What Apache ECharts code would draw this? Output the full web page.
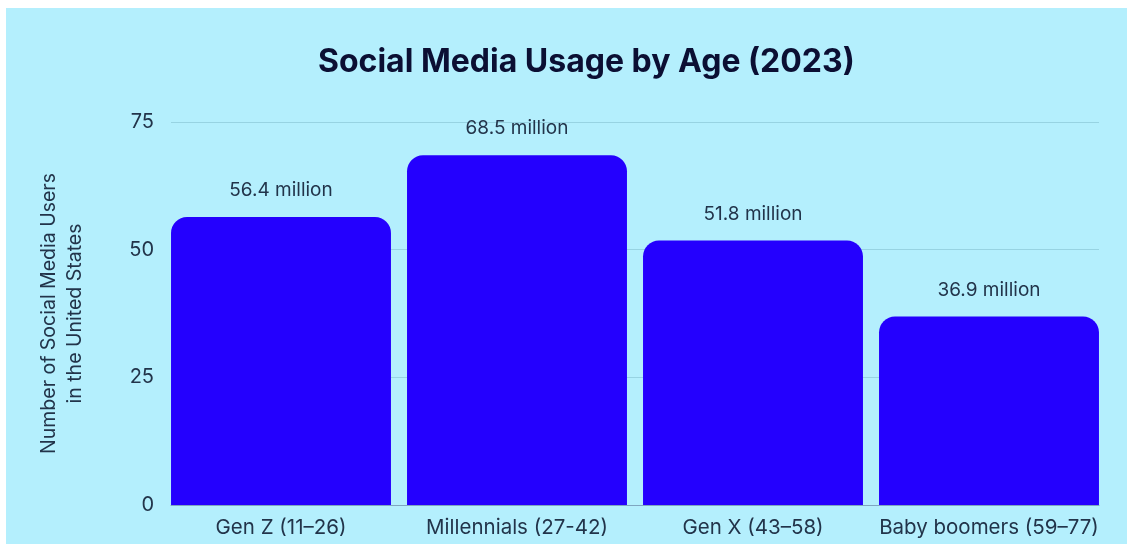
<!DOCTYPE html>
<html>
<head>
<meta charset="utf-8">
<script src="https://cdn.jsdelivr.net/npm/echarts@6/dist/echarts.min.js"></script>
<style>
  html, body { margin: 0; padding: 0; background: #ffffff; }
  #chart { position: absolute; left: 6px; top: 8px; width: 1121px; height: 536px; }
</style>
</head>
<body>
<div id="chart"></div>
<script>
const categories = ['Gen Z (11–26)', 'Millennials (27-42)', 'Gen X (43–58)', 'Baby boomers (59–77)']
const users = [56.4, 68.5, 51.8, 36.9]
const yTicks = [0, 25, 50, 75]

const chart = echarts.init(document.getElementById('chart'))

const textColor = '#22344a'
const font = 'Inter'

// grid 0 carries the y axis, gridlines and baseline; grid 1 carries the bars,
// which in the original run a little past the gridlines on both sides
chart.setOption({
  backgroundColor: '#b4effd',
  animation: false,
  title: {
    text: 'Social Media Usage by Age (2023)',
    left: 307,
    top: 33,
    textStyle: {
      fontFamily: font,
      fontSize: 32,
      fontWeight: 'bold',
      color: '#0b0f33'
    }
  },
  grid: [
    { left: 165, right: 28, top: 114, bottom: 39 },
    { left: 157, right: 20, top: 114, bottom: 39 }
  ],
  xAxis: [
    {
      type: 'category',
      gridIndex: 0,
      data: categories,
      axisTick: { show: false },
      axisLabel: { show: false },
      axisLine: { lineStyle: { color: '#7fa6c0', width: 1 } }
    },
    {
      type: 'category',
      gridIndex: 1,
      data: categories,
      axisTick: { show: false },
      axisLine: { show: false },
      axisLabel: {
        interval: 0,
        color: textColor,
        fontFamily: font,
        fontSize: 20.5,
        margin: 12
      }
    }
  ],
  yAxis: [
    {
      type: 'value',
      gridIndex: 0,
      min: yTicks[0],
      max: yTicks[yTicks.length - 1],
      interval: 25,
      name: 'Number of Social Media Users\nin the United States',
      nameLocation: 'middle',
      nameGap: 83,
      nameTextStyle: {
        color: textColor,
        fontFamily: font,
        fontSize: 19.5,
        lineHeight: 26
      },
      axisLabel: {
        color: textColor,
        fontFamily: font,
        fontSize: 20,
        margin: 17
      },
      splitLine: { lineStyle: { color: '#97d3e2', width: 1 } }
    },
    {
      type: 'value',
      gridIndex: 1,
      min: yTicks[0],
      max: yTicks[yTicks.length - 1],
      interval: 25,
      show: false,
      splitLine: { show: false }
    }
  ],
  series: [{
    type: 'bar',
    xAxisIndex: 1,
    yAxisIndex: 1,
    data: users,
    barCategoryGap: '6.8%',
    itemStyle: {
      color: '#2400fe',
      borderRadius: [16, 16, 0, 0]
    },
    label: {
      show: true,
      position: 'top',
      distance: 17,
      formatter: p => p.value + ' million',
      color: textColor,
      fontFamily: font,
      fontSize: 19
    }
  }]
})
</script>
</body>
</html>
